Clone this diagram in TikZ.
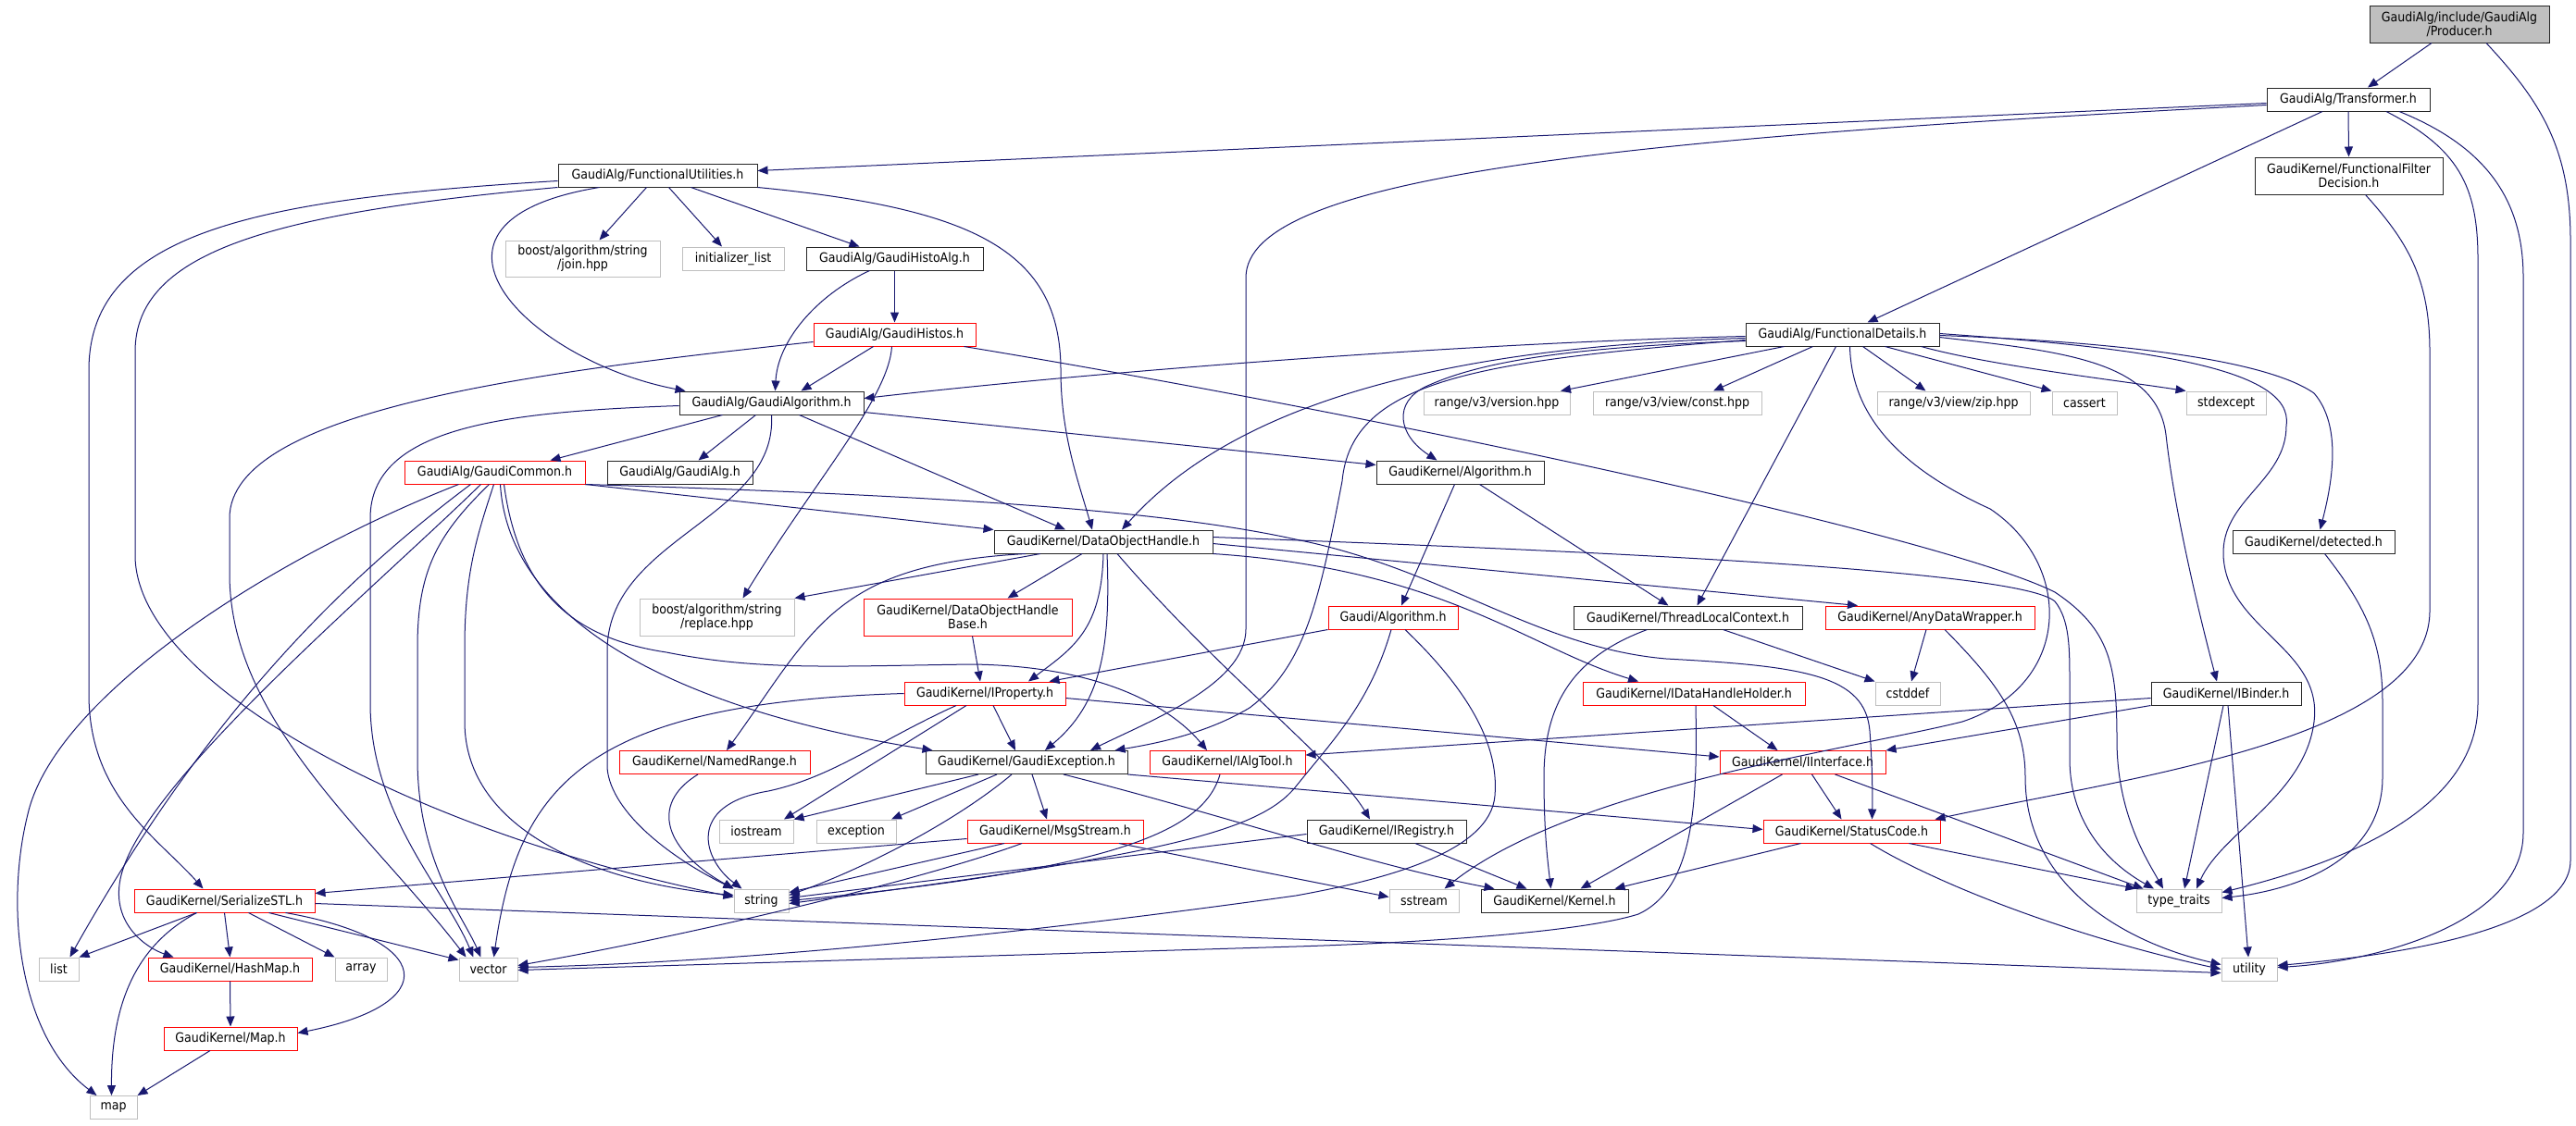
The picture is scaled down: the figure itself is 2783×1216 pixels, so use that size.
\documentclass[tikz,border=0pt]{standalone}
\usepackage{fontspec}
\setmainfont{DejaVu Sans}[FakeStretch=0.9]
\usetikzlibrary{arrows.meta}
\definecolor{edgeblue}{HTML}{191970}
\definecolor{borderdark}{HTML}{262626}
\definecolor{bordergray}{HTML}{BFBFBF}
\definecolor{rootfill}{HTML}{BFBFBF}
\definecolor{borderred}{HTML}{FF0000}
\tikzset{
  sz/.style 2 args={minimum width=#1pt, minimum height=#2pt},
  nbase/.style={draw, fill=white, line width=1pt, inner sep=0pt, align=center, font=\fontsize{14}{15}\selectfont},
  nblack/.style={nbase, draw=borderdark},
  nred/.style={nbase, draw=borderred},
  ngray/.style={nbase, draw=bordergray},
  nroot/.style={nbase, draw=borderdark, fill=rootfill},
  dep/.style={draw=edgeblue, line width=1pt, -{Triangle[length=11pt,width=9pt]}},
}
\begin{document}
\begin{tikzpicture}[x=1pt,y=-1pt]
\path[use as bounding box, fill=white] (0,0) rectangle (2783,1216);

% ---------------- nodes ----------------
\node[nroot, sz={194}{40}] (prod) at (2657,26) {GaudiAlg/include/GaudiAlg\\/Producer.h};
\node[nblack, sz={176}{25}] (trans) at (2537,107.5) {GaudiAlg/Transformer.h};
\node[nblack, sz={215}{25}] (fu) at (710.5,189.5) {GaudiAlg/FunctionalUtilities.h};
\node[nblack, sz={203}{40}] (ffd) at (2537.5,190) {GaudiKernel/FunctionalFilter\\Decision.h};
\node[ngray, sz={167}{39}] (join) at (629.5,279.5) {boost/algorithm/string\\/join.hpp};
\node[ngray, sz={110}{25}] (initl) at (792,279.5) {initializer\_list};
\node[nblack, sz={191}{25}] (histoalg) at (966.5,279.5) {GaudiAlg/GaudiHistoAlg.h};
\node[nred, sz={175}{25}] (histos) at (966.5,361.5) {GaudiAlg/GaudiHistos.h};
\node[nblack, sz={209}{25}] (fd) at (1990.5,361.5) {GaudiAlg/FunctionalDetails.h};
\node[nblack, sz={199}{25}] (galgo) at (833.5,435.5) {GaudiAlg/GaudiAlgorithm.h};
\node[ngray, sz={158}{25}] (version) at (1617,435.5) {range/v3/version.hpp};
\node[ngray, sz={182}{25}] (const) at (1812,435.5) {range/v3/view/const.hpp};
\node[ngray, sz={165}{25}] (zip) at (2110.5,435.5) {range/v3/view/zip.hpp};
\node[ngray, sz={70}{25}] (cassert) at (2252,435.5) {cassert};
\node[ngray, sz={86}{25}] (stdexcept) at (2405,435.5) {stdexcept};
\node[nred, sz={195}{25}] (gcommon) at (534.5,510.5) {GaudiAlg/GaudiCommon.h};
\node[nblack, sz={157}{25}] (galg) at (734.5,510.5) {GaudiAlg/GaudiAlg.h};
\node[nblack, sz={181}{25}] (kalgo) at (1577.5,510.5) {GaudiKernel/Algorithm.h};
\node[nblack, sz={236}{25}] (doh) at (1192,585.5) {GaudiKernel/DataObjectHandle.h};
\node[nblack, sz={175}{25}] (detected) at (2499.5,585.5) {GaudiKernel/detected.h};
\node[ngray, sz={167}{40}] (replace) at (774.5,667) {boost/algorithm/string\\/replace.hpp};
\node[nred, sz={225}{40}] (dohbase) at (1045.5,667) {GaudiKernel/DataObjectHandle\\Base.h};
\node[nred, sz={140}{25}] (gaudialgo) at (1505,667.5) {Gaudi/Algorithm.h};
\node[nblack, sz={247}{25}] (tlc) at (1823.5,667.5) {GaudiKernel/ThreadLocalContext.h};
\node[nred, sz={226}{25}] (adw) at (2085,667.5) {GaudiKernel/AnyDataWrapper.h};
\node[nred, sz={174}{25}] (iprop) at (1064,749.5) {GaudiKernel/IProperty.h};
\node[nred, sz={240}{25}] (idhh) at (1830,749.5) {GaudiKernel/IDataHandleHolder.h};
\node[ngray, sz={70}{25}] (cstddef) at (2061,749.5) {cstddef};
\node[nblack, sz={162}{25}] (ibinder) at (2405,749.5) {GaudiKernel/IBinder.h};
\node[nred, sz={206}{25}] (named) at (772,824) {GaudiKernel/NamedRange.h};
\node[nblack, sz={218}{25}] (gexc) at (1109,824) {GaudiKernel/GaudiException.h};
\node[nred, sz={168}{25}] (ialgtool) at (1326,824) {GaudiKernel/IAlgTool.h};
\node[nred, sz={179}{25}] (iinterface) at (1947.5,824) {GaudiKernel/IInterface.h};
\node[ngray, sz={80}{25}] (iostream) at (817,898.5) {iostream};
\node[ngray, sz={86}{25}] (exception) at (925,898.5) {exception};
\node[nred, sz={190}{25}] (msgstream) at (1140,898.5) {GaudiKernel/MsgStream.h};
\node[nblack, sz={172}{25}] (iregistry) at (1498,898.5) {GaudiKernel/IRegistry.h};
\node[nred, sz={191}{25}] (statuscode) at (2000.5,898.5) {GaudiKernel/StatusCode.h};
\node[nred, sz={195}{25}] (serial) at (242.5,973.5) {GaudiKernel/SerializeSTL.h};
\node[ngray, sz={59}{25}] (string) at (822.5,973.5) {string};
\node[ngray, sz={75}{25}] (sstream) at (1538.5,973.5) {sstream};
\node[nblack, sz={159}{25}] (kernel) at (1679.5,973.5) {GaudiKernel/Kernel.h};
\node[ngray, sz={92}{25}] (typetraits) at (2354,973.5) {type\_traits};
\node[ngray, sz={43}{25}] (nlist) at (63.5,1047.5) {list};
\node[nred, sz={177}{25}] (hashmap) at (248.5,1047.5) {GaudiKernel/HashMap.h};
\node[ngray, sz={56}{25}] (array) at (390,1047.5) {array};
\node[ngray, sz={63}{25}] (vector) at (527.5,1047.5) {vector};
\node[ngray, sz={60}{25}] (utility) at (2430,1047.5) {utility};
\node[nred, sz={144}{25}] (mapH) at (249,1122.5) {GaudiKernel/Map.h};
\node[ngray, sz={51}{25}] (nmap) at (122.5,1197) {map};

% ---------------- edges ----------------
% Producer
\draw[dep] ([xshift=-30pt]prod.south) -- ([xshift=21pt]trans.north);
\draw[dep] ([xshift=29pt]prod.south) .. controls (2745,110) and (2777,160) .. (2777,260) -- (2777,930) .. controls (2777,1010) and (2560,1035) .. ([yshift=4pt]utility.east);
% Transformer
\draw[dep] ([yshift=-4pt]trans.west) -- ([yshift=5pt]fu.east);
\draw[dep] ([xshift=-28pt]trans.south) -- ([xshift=27pt]fd.north);
\draw[dep] (trans.south) -- (ffd.north);
\draw[dep] ([yshift=-6pt]trans.west) .. controls (1750,150) and (1346,190) .. (1346,300) -- (1346,680) .. controls (1346,740) and (1240,780) .. ([xshift=69pt]gexc.north);
\draw[dep] ([xshift=41pt]trans.south) .. controls (2655,160) and (2677,200) .. (2677,280) -- (2677,760) .. controls (2677,880) and (2520,935) .. ([yshift=9pt]typetraits.east);
\draw[dep] ([xshift=55pt]trans.south) .. controls (2690,160) and (2726,220) .. (2726,300) -- (2726,900) .. controls (2726,1000) and (2560,1040) .. ([yshift=2pt]utility.east);
% FunctionalUtilities
\draw[dep] ([xshift=-12pt]fu.south) -- ([xshift=18pt]join.north);
\draw[dep] ([xshift=12pt]fu.south) -- ([xshift=-12pt]initl.north);
\draw[dep] ([xshift=36pt]fu.south) -- ([xshift=-38pt]histoalg.north);
\draw[dep] ([xshift=-63pt]fu.south) .. controls (420,240) and (570,390) .. ([xshift=-93pt]galgo.north);
\draw[dep] (fu.south east) .. controls (1050,225) and (1146,270) .. (1146,400) .. controls (1146,470) and (1165,520) .. ([xshift=-12pt]doh.north);
\draw[dep] ([yshift=-6pt]fu.west) .. controls (280,215) and (96,250) .. (96,400) -- (96,750) .. controls (96,860) and (170,905) .. ([xshift=-23pt]serial.north);
\draw[dep] (fu.south west) .. controls (300,230) and (146,270) .. (146,380) -- (146,600) .. controls (146,740) and (450,900) .. ([yshift=4pt]string.west);
% FunctionalFilterDecision
\draw[dep] ([xshift=18pt]ffd.south) .. controls (2600,260) and (2625,300) .. (2625,380) -- (2625,660) .. controls (2625,800) and (2300,840) .. ([xshift=-6pt]statuscode.north east);
% GaudiHistoAlg / GaudiHistos
\draw[dep] (histoalg.south) -- (histos.north);
\draw[dep] ([xshift=-27pt]histoalg.south) .. controls (880,320) and (840,370) .. ([xshift=4pt]galgo.north);
\draw[dep] ([xshift=-23pt]histos.south) -- ([xshift=32pt]galgo.north);
\draw[dep] ([xshift=-3pt]histos.south) .. controls (960,430) and (880,520) .. ([xshift=28pt]replace.north);
\draw[dep] ([yshift=-8pt]histos.west) .. controls (600,400) and (248,440) .. (248,560) -- (248,620) .. controls (248,780) and (400,900) .. ([xshift=-24pt]vector.north);
\draw[dep] ([xshift=75pt]histos.south) .. controls (1500,450) and (2100,580) .. (2220,640) .. controls (2280,680) and (2287,720) .. (2287,800) .. controls (2287,880) and (2320,930) .. ([xshift=-17pt]typetraits.north);
% FunctionalDetails
\draw[dep] ([yshift=-2pt]fd.west) .. controls (1600,370) and (1200,400) .. ([yshift=5pt]galgo.east);
\draw[dep] ([yshift=-4pt]fd.west) .. controls (1550,375) and (1330,440) .. ([xshift=20pt]doh.north);
\draw[dep] ([yshift=-6pt]fd.west) .. controls (1600,390) and (1460,410) .. (1450,520) .. controls (1425,650) and (1410,720) .. (1350,765) .. controls (1300,795) and (1240,805) .. ([xshift=-14pt]gexc.north east);
\draw[dep] ([yshift=-7pt]fd.west) .. controls (1700,375) and (1600,390) .. (1540,418) .. controls (1505,435) and (1510,470) .. ([xshift=-25pt]kalgo.north);
\draw[dep] ([xshift=-63pt]fd.south) -- ([xshift=69pt]version.north);
\draw[dep] ([xshift=-32pt]fd.south) -- ([xshift=39pt]const.north);
\draw[dep] ([xshift=22pt]fd.south) -- ([xshift=-30pt]zip.north);
\draw[dep] ([xshift=46pt]fd.south) -- (cassert.north west);
\draw[dep] ([xshift=-20pt]fd.south east) .. controls (2150,395) and (2280,410) .. (stdexcept.north west);
\draw[dep] ([xshift=-7pt]fd.south) -- ([xshift=10pt]tlc.north);
\draw[dep] ([yshift=-3pt]fd.east) .. controls (2230,380) and (2330,390) .. (2340,470) .. controls (2350,560) and (2380,680) .. ([xshift=-10pt]ibinder.north);
\draw[dep] ([yshift=-1pt]fd.east) .. controls (2300,370) and (2450,390) .. (2500,425) .. controls (2530,460) and (2520,520) .. ([xshift=7pt]detected.north);
\draw[dep] ([yshift=1pt]fd.east) .. controls (2300,375) and (2480,395) .. (2470,460) .. controls (2470,520) and (2400,540) .. (2402,600) .. controls (2405,680) and (2510,700) .. (2500,780) .. controls (2490,860) and (2400,900) .. ([xshift=19pt]typetraits.north);
\draw[dep] ([xshift=8pt]fd.south) .. controls (2000,440) and (2040,500) .. (2150,550) .. controls (2240,610) and (2240,740) .. (2120,780) .. controls (2000,810) and (1700,850) .. ([xshift=22pt]sstream.north);
% GaudiAlgorithm
\draw[dep] ([xshift=-53pt]galgo.south) -- ([xshift=60pt]gcommon.north);
\draw[dep] ([xshift=-17pt]galgo.south) -- ([xshift=20pt]galg.north);
\draw[dep] ([xshift=30pt]galgo.south) -- ([xshift=-41pt]doh.north);
\draw[dep] ([yshift=-10pt]galgo.east) -- ([yshift=8pt]kalgo.west);
\draw[dep] ([yshift=-3pt]galgo.west) .. controls (550,445) and (400,460) .. (400,560) -- (400,760) .. controls (400,880) and (480,960) .. ([xshift=-16pt]vector.north);
\draw[dep] (galgo.south) .. controls (840,560) and (660,580) .. (656,700) -- (656,830) .. controls (660,880) and (730,930) .. (string.north west);
% GaudiCommon
\draw[dep] ([xshift=-39pt]gcommon.south) .. controls (300,600) and (60,750) .. (30,880) .. controls (5,980) and (20,1120) .. ([xshift=-18pt]nmap.north);
\draw[dep] ([xshift=-26pt]gcommon.south) .. controls (380,620) and (230,760) .. ([xshift=12pt]nlist.north);
\draw[dep] ([xshift=-15pt]gcommon.south) .. controls (400,640) and (150,850) .. (130,950) .. controls (120,1000) and (160,1025) .. ([xshift=-61pt]hashmap.north);
\draw[dep] ([xshift=-6pt]gcommon.south) .. controls (470,580) and (451,620) .. (451,700) -- (451,820) .. controls (451,930) and (500,990) .. ([xshift=-8pt]vector.north);
\draw[dep] ([xshift=-1pt]gcommon.south) .. controls (515,580) and (502,620) .. (502,700) -- (502,780) .. controls (502,900) and (650,955) .. ([yshift=6pt]string.west);
\draw[dep] ([xshift=6pt]gcommon.south) .. controls (550,680) and (750,770) .. ([xshift=8pt]gexc.north west);
\draw[dep] ([xshift=10pt]gcommon.south) .. controls (560,640) and (620,690) .. (720,705) .. controls (820,725) and (900,720) .. (1050,718) .. controls (1200,720) and (1270,770) .. ([xshift=-22pt]ialgtool.north);
\draw[dep] (gcommon.south east) -- (doh.north west);
\draw[dep] (gcommon.south east) .. controls (1000,535) and (1250,550) .. (1400,583) .. controls (1560,615) and (1660,700) .. (1800,712) .. controls (1950,720) and (2015,730) .. (2020,790) .. controls (2023,830) and (2023,860) .. ([xshift=22pt]statuscode.north);
% GaudiKernel/Algorithm.h
\draw[dep] ([xshift=-6pt]kalgo.south) -- ([xshift=9pt]gaudialgo.north);
\draw[dep] ([xshift=21pt]kalgo.south) -- ([xshift=-21pt]tlc.north);
% DataObjectHandle
\draw[dep] ([xshift=-68pt]doh.south) -- (replace.north east);
\draw[dep] ([xshift=-84pt]doh.south) .. controls (900,610) and (880,680) .. ([xshift=13pt]named.north);
\draw[dep] ([xshift=-23pt]doh.south) -- ([xshift=43pt]dohbase.north);
\draw[dep] (doh.south) .. controls (1190,680) and (1160,700) .. ([xshift=47pt]iprop.north);
\draw[dep] ([xshift=4pt]doh.south) .. controls (1200,700) and (1190,760) .. ([xshift=20pt]gexc.north);
\draw[dep] ([xshift=15pt]doh.south) .. controls (1320,730) and (1440,820) .. ([xshift=-18pt]iregistry.north);
\draw[dep] (doh.south east) .. controls (1560,615) and (1650,700) .. ([xshift=-60pt]idhh.north);
\draw[dep] ([yshift=-2pt]doh.east) -- ([xshift=-78pt]adw.north);
\draw[dep] ([yshift=5pt]doh.east) .. controls (1700,595) and (2180,615) .. (2220,650) .. controls (2236,670) and (2236,700) .. (2236,740) -- (2236,820) .. controls (2236,900) and (2290,940) .. ([xshift=-27pt]typetraits.north);
% DataObjectHandleBase, Gaudi/Algorithm.h
\draw[dep] ([xshift=5pt]dohbase.south) -- ([xshift=-5pt]iprop.north);
\draw[dep] (gaudialgo.south west) -- ([xshift=-18pt]iprop.north east);
\draw[dep] ([xshift=-2pt]gaudialgo.south) .. controls (1480,760) and (1440,800) .. (1400,850) .. controls (1360,900) and (1250,925) .. ([yshift=-3pt]string.east);
\draw[dep] ([xshift=13pt]gaudialgo.south) .. controls (1580,740) and (1620,800) .. (1615,860) .. controls (1610,920) and (1500,950) .. (1400,968) .. controls (1100,1010) and (800,1040) .. ([yshift=2pt]vector.east);
% ThreadLocalContext, AnyDataWrapper
\draw[dep] ([xshift=38pt]tlc.south) -- (cstddef.north west);
\draw[dep] ([xshift=-44pt]tlc.south) .. controls (1700,710) and (1668,760) .. (1668,840) .. controls (1668,900) and (1672,930) .. ([xshift=-4pt]kernel.north);
\draw[dep] ([xshift=-4pt]adw.south) -- ([xshift=4pt]cstddef.north);
\draw[dep] ([xshift=16pt]adw.south) .. controls (2160,740) and (2188,780) .. (2188,840) .. controls (2188,960) and (2300,1020) .. ([yshift=5pt]utility.west);
% IProperty
\draw[dep] (iprop.west) .. controls (630,760) and (560,850) .. ([xshift=6pt]vector.north);
\draw[dep] ([xshift=-31pt]iprop.south) .. controls (950,800) and (900,840) .. (830,855) .. controls (740,870) and (760,930) .. ([xshift=-21pt]string.north);
\draw[dep] ([xshift=-20pt]iprop.south) -- ([xshift=30pt]iostream.north);
\draw[dep] ([xshift=9pt]iprop.south) -- ([xshift=-12pt]gexc.north);
\draw[dep] ([yshift=-5pt]iprop.east) -- ([yshift=6pt]iinterface.west);
% IDataHandleHolder
\draw[dep] ([xshift=21pt]idhh.south) -- ([xshift=-27pt]iinterface.north);
\draw[dep] ([xshift=2pt]idhh.south) .. controls (1834,870) and (1830,960) .. (1770,988) .. controls (1700,1010) and (1500,1020) .. (1400,1023) -- ([yshift=-1pt]vector.east);
% NamedRange
\draw[dep] ([xshift=-18pt]named.south) .. controls (700,870) and (720,920) .. (string.north west);
% GaudiException
\draw[dep] ([xshift=-52pt]gexc.south) -- (iostream.north east);
\draw[dep] ([xshift=-32pt]gexc.south) -- ([xshift=38pt]exception.north);
\draw[dep] ([xshift=-16pt]gexc.south) .. controls (1030,890) and (930,940) .. ([yshift=6pt]string.east);
\draw[dep] ([xshift=6pt]gexc.south) -- ([xshift=-9pt]msgstream.north);
\draw[dep] ([xshift=40pt]gexc.south) .. controls (1320,880) and (1480,935) .. ([xshift=-65pt]kernel.north);
\draw[dep] (gexc.south east) -- ([yshift=2pt]statuscode.west);
% IAlgTool
\draw[dep] ([xshift=-8pt]ialgtool.south) .. controls (1300,900) and (1200,940) .. (string.east);
% IInterface
\draw[dep] ([xshift=10pt]iinterface.south) -- ([xshift=-11pt]statuscode.north);
\draw[dep] ([xshift=-22pt]iinterface.south) -- ([xshift=28pt]kernel.north);
\draw[dep] ([xshift=35pt]iinterface.south) -- ([xshift=8pt]typetraits.north west);
% IBinder
\draw[dep] ([yshift=-5pt]ibinder.west) -- ([yshift=-5pt]ialgtool.north east);
\draw[dep] (ibinder.south west) -- (iinterface.north east);
\draw[dep] ([xshift=-3pt]ibinder.south) -- ([xshift=6pt]typetraits.north);
\draw[dep] ([xshift=2pt]ibinder.south) -- ([xshift=-1pt]utility.north);
% detected
\draw[dep] ([xshift=12pt]detected.south) .. controls (2560,660) and (2574,700) .. (2574,760) -- (2574,840) .. controls (2574,930) and (2480,962) .. ([yshift=3pt]typetraits.east);
% MsgStream
\draw[dep] ([yshift=-8pt]msgstream.west) -- ([yshift=8pt]serial.east);
\draw[dep] ([xshift=-55pt]msgstream.south) -- ([yshift=9pt]string.east);
\draw[dep] ([xshift=-36pt]msgstream.south) .. controls (1000,950) and (750,1010) .. ([yshift=4pt]vector.east);
\draw[dep] ([xshift=69pt]msgstream.south) -- ([yshift=4pt]sstream.west);
% IRegistry
\draw[dep] ([xshift=31pt]iregistry.south) -- ([xshift=-30pt]kernel.north);
\draw[dep] ([yshift=-3pt]iregistry.west) -- ([yshift=3pt]string.east);
% StatusCode
\draw[dep] ([xshift=-55pt]statuscode.south) -- ([xshift=65pt]kernel.north);
\draw[dep] ([xshift=62pt]statuscode.south) -- (typetraits.north west);
\draw[dep] ([xshift=20pt]statuscode.south) .. controls (2100,960) and (2250,1015) .. (utility.west);
% SerializeSTL
\draw[dep] ([xshift=-30pt]serial.south) -- (nlist.north east);
\draw[dep] (serial.south) -- (hashmap.north);
\draw[dep] ([xshift=26pt]serial.south) -- (array.north west);
\draw[dep] ([xshift=48pt]serial.south) -- ([yshift=-3pt]vector.north west);
\draw[dep] ([xshift=-30pt]serial.south) .. controls (150,1020) and (120,1080) .. ([xshift=-2pt]nmap.north);
\draw[dep] ([xshift=66pt]serial.south) .. controls (470,1015) and (480,1085) .. ([yshift=6pt]mapH.east);
\draw[dep] ([yshift=-3pt]serial.east) -- ([yshift=-4pt]utility.west);
% HashMap, Map
\draw[dep] (hashmap.south) -- (mapH.north);
\draw[dep] ([xshift=-22pt]mapH.south) -- (nmap.north east);
\end{tikzpicture}
\end{document}
